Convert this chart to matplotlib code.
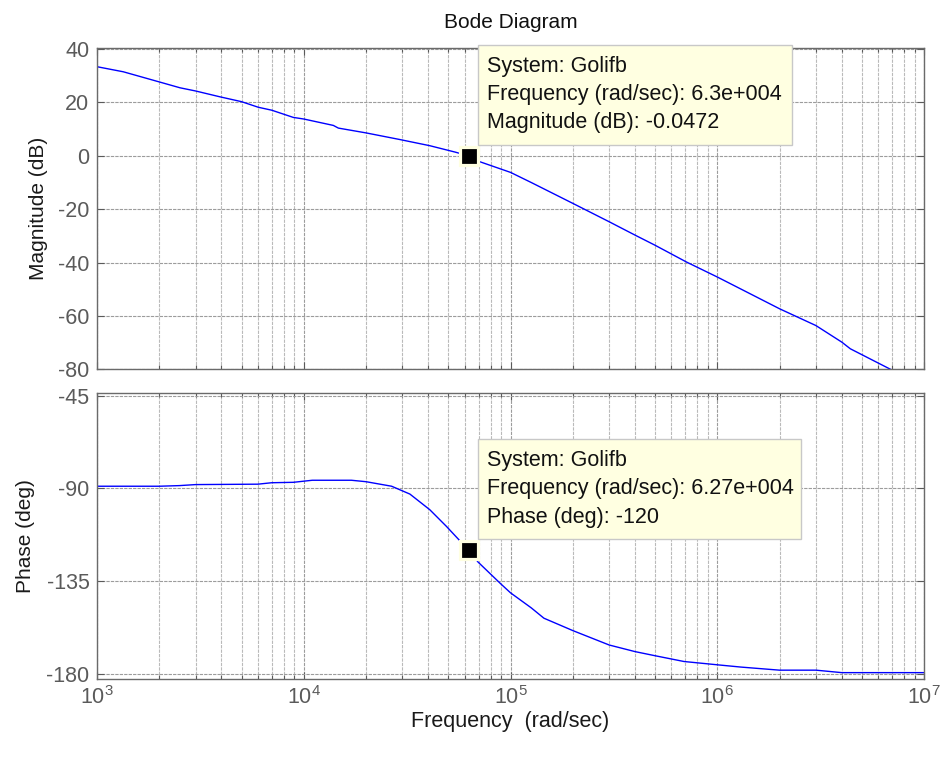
import numpy as np
import matplotlib
matplotlib.use("Agg")
import matplotlib.pyplot as plt
from matplotlib.patches import Rectangle
from matplotlib.transforms import IdentityTransform
from matplotlib.ticker import LogLocator, NullFormatter

plt.rcParams['font.family'] = ['Liberation Sans', 'DejaVu Sans']
plt.rcParams['axes.unicode_minus'] = False
plt.rcParams['mathtext.fontset'] = 'custom'
plt.rcParams['mathtext.rm'] = 'Liberation Sans'

# magnitude curve
freq_mag = [1e3, 1.34e3, 2e3, 2.52e3, 3e3, 3.94e3, 5e3, 6.03e3, 7e3, 8.9e3,
            1e4, 1.39e4, 1.47e4, 2e4, 2.92e4, 4.07e4, 5.4e4, 6.3e4, 7.1e4,
            1e5, 1.26e5, 2e5, 3e5, 4e5, 5e5, 7.1e5, 1e6, 2e6, 3e6, 4e6,
            4.4e6, 7.3e6]
mag_db = [33.4, 31.5, 27.7, 25.5, 24.3, 22.1, 20.3, 18.2, 17.1, 14.4,
          13.8, 11.4, 10.4, 8.6, 6.1, 3.8, 1.4, -0.05, -2.2,
          -6.2, -10, -17.8, -24.7, -29.7, -33.5, -39.8, -45.4, -57.3, -63.6, -69.8,
          -72.3, -81]

# phase curve
freq_ph = [1e3, 2e3, 2.5e3, 3e3, 6e3, 7e3, 8.9e3, 1.1e4, 1.7e4, 2e4,
           2.66e4, 3.26e4, 4.07e4, 4.9e4, 6.27e4, 6.97e4, 8.96e4, 1e5,
           1.26e5, 1.45e5, 2e5, 3e5, 4e5, 5e5, 6.9e5, 1e6, 1.3e6, 2e6,
           3e6, 4e6, 1e7]
phase_deg = [-89.0, -89.0, -88.7, -88.2, -88.0, -87.3, -87.1, -86.1, -86.1, -86.8,
             -89.0, -92.8, -100.4, -108.5, -120, -125.8, -136.3, -140.7,
             -148, -153, -159, -166, -169.2, -171.2, -174, -175.6, -176.7, -178.2,
             -178.2, -179.4, -179.4]

mag_ticks = [40, 20, 0, -20, -40, -60, -80]
phase_ticks = [-45, -90, -135, -180]

# data tips
tip_mag = (6.3e4, -0.0472)
tip_ph = (6.27e4, -120)
tip_mag_text = "System: Golifb\nFrequency (rad/sec): 6.3e+004\nMagnitude (dB): -0.0472"
tip_ph_text = "System: Golifb\nFrequency (rad/sec): 6.27e+004\nPhase (deg): -120"

tick_col = '#5a5a5a'

fig = plt.figure(figsize=(9.41, 7.57), dpi=100)
ax1 = fig.add_axes([0.1031, 0.5121, 0.8789, 0.4241])
ax2 = fig.add_axes([0.1031, 0.1030, 0.8789, 0.3778], sharex=ax1)

ax1.plot(freq_mag, mag_db, color='#0000ff', lw=1.0)
ax2.plot(freq_ph, phase_deg, color='#0000ff', lw=1.0)

for ax in (ax1, ax2):
    ax.set_xscale('log')
    ax.set_xlim(1e3, 1e7)
    ax.xaxis.set_major_locator(LogLocator(base=10))
    ax.xaxis.set_minor_locator(LogLocator(base=10, subs=np.arange(2, 10)))
    ax.xaxis.set_minor_formatter(NullFormatter())
    ax.grid(True, which='major', color='#9c9c9c', lw=0.8, ls=(0, (3, 1)))
    ax.grid(True, which='minor', axis='x', color='#bababa', lw=0.8, ls=(0, (3, 1)))
    ax.tick_params(which='both', direction='in', top=True, right=True,
                   colors=tick_col, labelsize=15.5, labelcolor=tick_col)
    ax.tick_params(which='major', length=5, width=0.8)
    ax.tick_params(which='minor', length=3, width=0.8)
    ax.tick_params(axis='y', pad=5.5)
    for s in ax.spines.values():
        s.set_color('#6a6a6a')
        s.set_linewidth(1.0)
    ax.set_axisbelow(True)

ax1.set_ylim(-80, 40.3)
ax1.set_yticks(mag_ticks)
ax1.tick_params(labelbottom=False)
ax1.set_ylabel('Magnitude (dB)', fontsize=15, color='#1a1a1a', labelpad=7)

ax2.set_ylim(-182.5, -43.8)
ax2.set_yticks(phase_ticks)
ax2.tick_params(axis='x', pad=5)
ax2.set_ylabel('Phase (deg)', fontsize=15, color='#1a1a1a', labelpad=8)
ax2.set_xlabel('Frequency  (rad/sec)', fontsize=15.5, color='#1a1a1a', labelpad=1.5)

fig.text(0.5425, 1 - 22 / 757, 'Bode Diagram', fontsize=15, color='#111111',
         ha='center', va='center')

# datatip boxes sit up-right of the marked point, sized in pixels
box_h = 100
for ax, (fx, fy), txt, box_w in ((ax1, tip_mag, tip_mag_text, 314),
                                  (ax2, tip_ph, tip_ph_text, 323)):
    ax.plot(fx, fy, marker='s', ms=13.5, mfc='black', mec='#ffffe1', mew=2.3,
            zorder=5, clip_on=False)
    px, py = ax.transData.transform((fx, fy))
    fig.add_artist(Rectangle((px + 9, py + 11), box_w, box_h, transform=IdentityTransform(),
                             fc='#ffffe1', ec='#c8c8c8', lw=1.0, zorder=6))
    fig.text(px + 18, py + 11 + box_h - 11, txt, transform=IdentityTransform(),
             ha='left', va='top', fontsize=15.5, color='#111111',
             linespacing=1.45, zorder=7)

fig.savefig('out.png', dpi=100)
